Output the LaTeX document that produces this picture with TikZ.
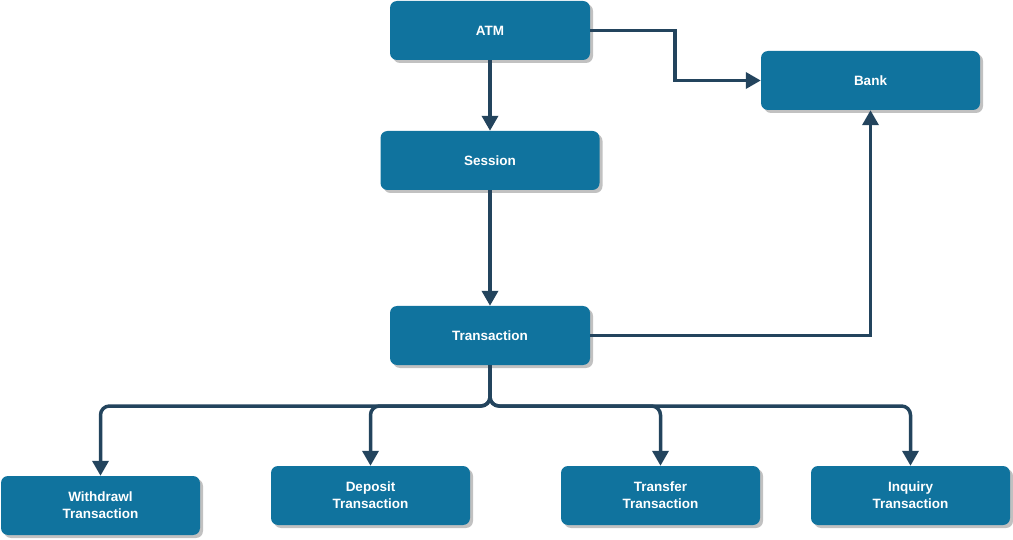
\documentclass[tikz,border=0pt]{standalone}
\usepackage{fontspec}
\setmainfont{Liberation Sans}
\usetikzlibrary{arrows.meta,shadows}
\definecolor{boxfill}{HTML}{10739E}
\definecolor{linecol}{HTML}{23445D}
\tikzset{
  box/.style={rectangle, rounded corners=7pt, fill=boxfill, text=white,
    font=\fontsize{13.5}{17}\selectfont\bfseries, align=center,
    minimum width=#1, minimum height=59pt, inner sep=0pt,
    drop shadow={shadow xshift=3pt, shadow yshift=-3pt, fill=black!30, opacity=0.8}},
  box/.default=200pt,
  conn/.style={draw=linecol, line width=3.5pt, -{Triangle[length=15pt,width=16pt]}},
  branch/.style={conn, rounded corners=9pt}
}
\begin{document}
\begin{tikzpicture}[x=1pt,y=-1pt]
\useasboundingbox (0,0) rectangle (1013,540);
\node[box=200pt] (atm) at (490,30.5) {ATM};
\node[box=219pt] (bank) at (870.5,80.5) {Bank};
\node[box=219pt] (session) at (490,160.5) {Session};
\node[box=200pt] (trans) at (490,335.5) {Transaction};
\node[box=199pt] (wd) at (100.5,505.5) {Withdrawl\\Transaction};
\node[box=199pt] (dep) at (370.5,495.5) {Deposit\\Transaction};
\node[box=199pt] (tr) at (660.5,495.5) {Transfer\\Transaction};
\node[box=199pt] (inq) at (910.5,495.5) {Inquiry\\Transaction};
\coordinate (j1) at (675,30.5);
\draw[conn] (atm.east) -- (j1) |- (bank.west);
\draw[conn] (atm.south) -- (session.north);
\draw[conn] (session.south) -- (trans.north);
\draw[conn] (trans.east) -| (bank.south);
\coordinate (hb) at (490,406);
\draw[branch] (trans.south) |- (hb -| wd.north) -- (wd.north);
\draw[branch] (trans.south) |- (hb -| dep.north) -- (dep.north);
\draw[branch] (trans.south) |- (hb -| tr.north) -- (tr.north);
\draw[branch] (trans.south) |- (hb -| inq.north) -- (inq.north);
\end{tikzpicture}
\end{document}
